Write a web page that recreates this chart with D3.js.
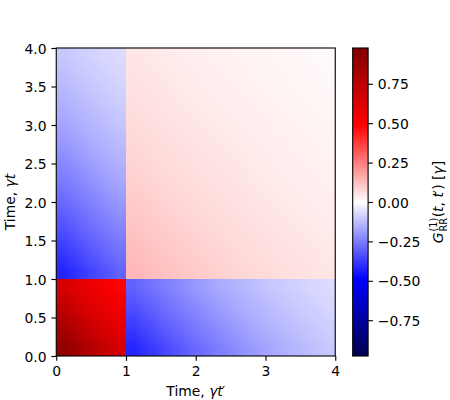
<!DOCTYPE html>
<html>
<head>
<meta charset="utf-8">
<script src="https://cdn.jsdelivr.net/npm/d3@7"></script>
<style>
  body { margin: 0; background: #fff; }
  svg text { font-family: "DejaVu Sans", sans-serif; }
</style>
</head>
<body>
<svg id="chart" width="450" height="400"></svg>
<script>
// grid cell centres (gamma t), same for both axes
var timeCenters = [0.1, 0.3, 0.5, 0.7, 0.9, 1.1, 1.3, 1.5, 1.7, 1.9,
                   2.1, 2.3, 2.5, 2.7, 2.9, 3.1, 3.3, 3.5, 3.7, 3.9];
// the field jumps at gamma t = 1, so the map is drawn in blocks
var blockEdges = [0, 1, 4];
var xTicks = [0, 1, 2, 3, 4];
var yTicks = [0, 0.5, 1, 1.5, 2, 2.5, 3, 3.5, 4];
var cbarTicks = [-0.75, -0.5, -0.25, 0, 0.25, 0.5, 0.75];
var vmax = 0.977;

// G(t, t'): one row per t (bottom to top), one column per t'
var G = [
  [0.92, 0.85, 0.78, 0.71, 0.65, -0.42, -0.39, -0.36, -0.33, -0.30, -0.275, -0.25, -0.23, -0.205, -0.185, -0.165, -0.15, -0.135, -0.12, -0.105],
  [0.85, 0.78, 0.71, 0.65, 0.60, -0.39, -0.36, -0.33, -0.30, -0.275, -0.25, -0.23, -0.205, -0.185, -0.165, -0.15, -0.135, -0.12, -0.105, -0.095],
  [0.78, 0.71, 0.65, 0.60, 0.56, -0.36, -0.33, -0.30, -0.275, -0.25, -0.23, -0.205, -0.185, -0.165, -0.15, -0.135, -0.12, -0.105, -0.095, -0.085],
  [0.71, 0.65, 0.60, 0.56, 0.52, -0.33, -0.30, -0.275, -0.25, -0.23, -0.205, -0.185, -0.165, -0.15, -0.135, -0.12, -0.105, -0.095, -0.085, -0.075],
  [0.65, 0.60, 0.56, 0.52, 0.48, -0.30, -0.275, -0.25, -0.23, -0.205, -0.185, -0.165, -0.15, -0.135, -0.12, -0.105, -0.095, -0.085, -0.075, -0.068],
  [-0.42, -0.39, -0.36, -0.33, -0.30, 0.14, 0.13, 0.12, 0.112, 0.104, 0.097, 0.09, 0.083, 0.077, 0.071, 0.066, 0.061, 0.056, 0.052, 0.048],
  [-0.39, -0.36, -0.33, -0.30, -0.275, 0.13, 0.12, 0.112, 0.104, 0.097, 0.09, 0.083, 0.077, 0.071, 0.066, 0.061, 0.056, 0.052, 0.048, 0.044],
  [-0.36, -0.33, -0.30, -0.275, -0.25, 0.12, 0.112, 0.104, 0.097, 0.09, 0.083, 0.077, 0.071, 0.066, 0.061, 0.056, 0.052, 0.048, 0.044, 0.040],
  [-0.33, -0.30, -0.275, -0.25, -0.23, 0.112, 0.104, 0.097, 0.09, 0.083, 0.077, 0.071, 0.066, 0.061, 0.056, 0.052, 0.048, 0.044, 0.040, 0.037],
  [-0.30, -0.275, -0.25, -0.23, -0.205, 0.104, 0.097, 0.09, 0.083, 0.077, 0.071, 0.066, 0.061, 0.056, 0.052, 0.048, 0.044, 0.040, 0.037, 0.034],
  [-0.275, -0.25, -0.23, -0.205, -0.185, 0.097, 0.09, 0.083, 0.077, 0.071, 0.066, 0.061, 0.056, 0.052, 0.048, 0.044, 0.040, 0.037, 0.034, 0.031],
  [-0.25, -0.23, -0.205, -0.185, -0.165, 0.09, 0.083, 0.077, 0.071, 0.066, 0.061, 0.056, 0.052, 0.048, 0.044, 0.040, 0.037, 0.034, 0.031, 0.028],
  [-0.23, -0.205, -0.185, -0.165, -0.15, 0.083, 0.077, 0.071, 0.066, 0.061, 0.056, 0.052, 0.048, 0.044, 0.040, 0.037, 0.034, 0.031, 0.028, 0.025],
  [-0.205, -0.185, -0.165, -0.15, -0.135, 0.077, 0.071, 0.066, 0.061, 0.056, 0.052, 0.048, 0.044, 0.040, 0.037, 0.034, 0.031, 0.028, 0.025, 0.022],
  [-0.185, -0.165, -0.15, -0.135, -0.12, 0.071, 0.066, 0.061, 0.056, 0.052, 0.048, 0.044, 0.040, 0.037, 0.034, 0.031, 0.028, 0.025, 0.022, 0.020],
  [-0.165, -0.15, -0.135, -0.12, -0.105, 0.066, 0.061, 0.056, 0.052, 0.048, 0.044, 0.040, 0.037, 0.034, 0.031, 0.028, 0.025, 0.022, 0.020, 0.018],
  [-0.15, -0.135, -0.12, -0.105, -0.095, 0.061, 0.056, 0.052, 0.048, 0.044, 0.040, 0.037, 0.034, 0.031, 0.028, 0.025, 0.022, 0.020, 0.018, 0.016],
  [-0.135, -0.12, -0.105, -0.095, -0.085, 0.056, 0.052, 0.048, 0.044, 0.040, 0.037, 0.034, 0.031, 0.028, 0.025, 0.022, 0.020, 0.018, 0.016, 0.014],
  [-0.12, -0.105, -0.095, -0.085, -0.075, 0.052, 0.048, 0.044, 0.040, 0.037, 0.034, 0.031, 0.028, 0.025, 0.022, 0.020, 0.018, 0.016, 0.014, 0.012],
  [-0.105, -0.095, -0.085, -0.075, -0.068, 0.048, 0.044, 0.040, 0.037, 0.034, 0.031, 0.028, 0.025, 0.022, 0.020, 0.018, 0.016, 0.014, 0.012, 0.010]
];

var svg = d3.select("#chart"),
    fs = 13.9,      // 10pt at 100 dpi
    tk = 4.86,      // tick length / pad
    lw = 1.11,
    plot = {left: 56.25, right: 335.25, top: 48, bottom: 356},
    cb = {left: 352.7, right: 368.1};

var x = d3.scaleLinear().domain([0, 4]).range([plot.left, plot.right]);
var y = d3.scaleLinear().domain([0, 4]).range([plot.bottom, plot.top]);
var cy = d3.scaleLinear().domain([-vmax, vmax]).range([plot.bottom, plot.top]);

// matplotlib "seismic"
var color = d3.scaleLinear()
    .domain([-vmax, -vmax / 2, 0, vmax / 2, vmax])
    .range(["#00004d", "#0000ff", "#ffffff", "#ff0000", "#800000"]);

// heat map, one smoothed image per block
var heat = svg.append("g");
d3.pairs(blockEdges).forEach(function(ty) {
  d3.pairs(blockEdges).forEach(function(tx) {
    var rows = d3.range(timeCenters.length).filter(function(i) { return timeCenters[i] > ty[0] && timeCenters[i] < ty[1]; }),
        cols = d3.range(timeCenters.length).filter(function(j) { return timeCenters[j] > tx[0] && timeCenters[j] < tx[1]; });
    var canvas = document.createElement("canvas");
    canvas.width = cols.length;
    canvas.height = rows.length;
    var ctx = canvas.getContext("2d"),
        img = ctx.createImageData(cols.length, rows.length);
    rows.forEach(function(i, r) {
      cols.forEach(function(j, c) {
        var col = d3.rgb(color(G[i][j])),
            k = ((rows.length - 1 - r) * cols.length + c) * 4;
        img.data[k] = col.r;
        img.data[k + 1] = col.g;
        img.data[k + 2] = col.b;
        img.data[k + 3] = 255;
      });
    });
    ctx.putImageData(img, 0, 0);
    heat.append("image")
        .attr("x", x(tx[0]))
        .attr("y", y(ty[1]))
        .attr("width", x(tx[1]) - x(tx[0]))
        .attr("height", y(ty[0]) - y(ty[1]))
        .attr("preserveAspectRatio", "none")
        .attr("href", canvas.toDataURL());
  });
});

// axes
function styleAxis(g) {
  g.select(".domain").remove();
  g.selectAll(".tick line").attr("stroke", "#000").attr("stroke-width", lw);
  g.selectAll(".tick text")
      .attr("fill", "#000")
      .style("font-family", "DejaVu Sans")
      .style("font-size", fs + "px");
}

svg.append("g")
    .attr("transform", "translate(0," + plot.bottom + ")")
    .call(d3.axisBottom(x).tickValues(xTicks).tickFormat(d3.format("d"))
          .tickSizeInner(tk).tickSizeOuter(0).tickPadding(tk))
    .call(styleAxis)
    .selectAll(".tick text").attr("dy", "0.76em");

svg.append("g")
    .attr("transform", "translate(" + plot.left + ",0)")
    .call(d3.axisLeft(y).tickValues(yTicks).tickFormat(d3.format(".1f"))
          .tickSizeInner(tk).tickSizeOuter(0).tickPadding(tk))
    .call(styleAxis)
    .selectAll(".tick text").attr("dy", "0.36em");

svg.append("rect")
    .attr("x", plot.left).attr("y", plot.top)
    .attr("width", plot.right - plot.left).attr("height", plot.bottom - plot.top)
    .attr("fill", "none").attr("stroke", "#000").attr("stroke-width", lw);

// colorbar
var grad = svg.append("defs").append("linearGradient")
    .attr("id", "cbgrad")
    .attr("gradientUnits", "userSpaceOnUse")
    .attr("x1", 0).attr("x2", 0)
    .attr("y1", cy(-vmax)).attr("y2", cy(vmax));
grad.selectAll("stop")
    .data(color.domain())
  .enter().append("stop")
    .attr("offset", function(d) { return (d + vmax) / (2 * vmax); })
    .attr("stop-color", function(d) { return color(d); });

svg.append("rect")
    .attr("x", cb.left).attr("y", cy(vmax))
    .attr("width", cb.right - cb.left).attr("height", cy(-vmax) - cy(vmax))
    .attr("fill", "url(#cbgrad)")
    .attr("stroke", "#000").attr("stroke-width", lw);

svg.append("g")
    .attr("transform", "translate(" + cb.right + ",0)")
    .call(d3.axisRight(cy).tickValues(cbarTicks).tickFormat(d3.format(".2f"))
          .tickSizeInner(tk).tickSizeOuter(0).tickPadding(tk))
    .call(styleAxis)
    .selectAll(".tick text").attr("dy", "0.36em");

// labels with a bit of math layout
function mathLabel(g, parts) {
  var inner = g.append("g"), cx = 0, prevX = 0;
  parts.forEach(function(p) {
    var x0 = p.same ? prevX : cx + (p.dx || 0);
    var t = inner.append("text")
        .attr("x", x0)
        .attr("y", p.dy || 0)
        .style("white-space", "pre")
        .style("font-size", (p.size || fs) + "px")
        .style("font-style", p.it ? "italic" : "normal")
        .text(p.s);
    prevX = x0;
    cx = Math.max(cx, x0 + t.node().getComputedTextLength());
  });
  inner.attr("transform", "translate(" + (-cx / 2) + ",0)");
}

mathLabel(svg.append("g").attr("transform", "translate(" + ((plot.left + plot.right) / 2) + ",395.5)"),
  [{s: "Time, "}, {s: "\u03b3t", it: 1}, {s: "\u2032", dx: -0.8}]);

mathLabel(svg.append("g").attr("transform", "translate(14.5," + ((plot.top + plot.bottom) / 2) + ") rotate(-90)"),
  [{s: "Time, "}, {s: "\u03b3t", it: 1}]);

mathLabel(svg.append("g").attr("transform", "translate(443," + ((plot.top + plot.bottom) / 2) + ") rotate(-90)"),
  [{s: "G", it: 1},
   {s: "(1)", size: 9.7, dy: -6, dx: 0.8},
   {s: "RR", size: 9.7, dy: 3.5, same: 1},
   {s: "(", dx: 0.5}, {s: "t", it: 1}, {s: ", "}, {s: "t", it: 1}, {s: "\u2032", dx: -0.8}, {s: ")"},
   {s: " ["}, {s: "\u03b3", it: 1}, {s: "]"}]);
</script>
</body>
</html>
